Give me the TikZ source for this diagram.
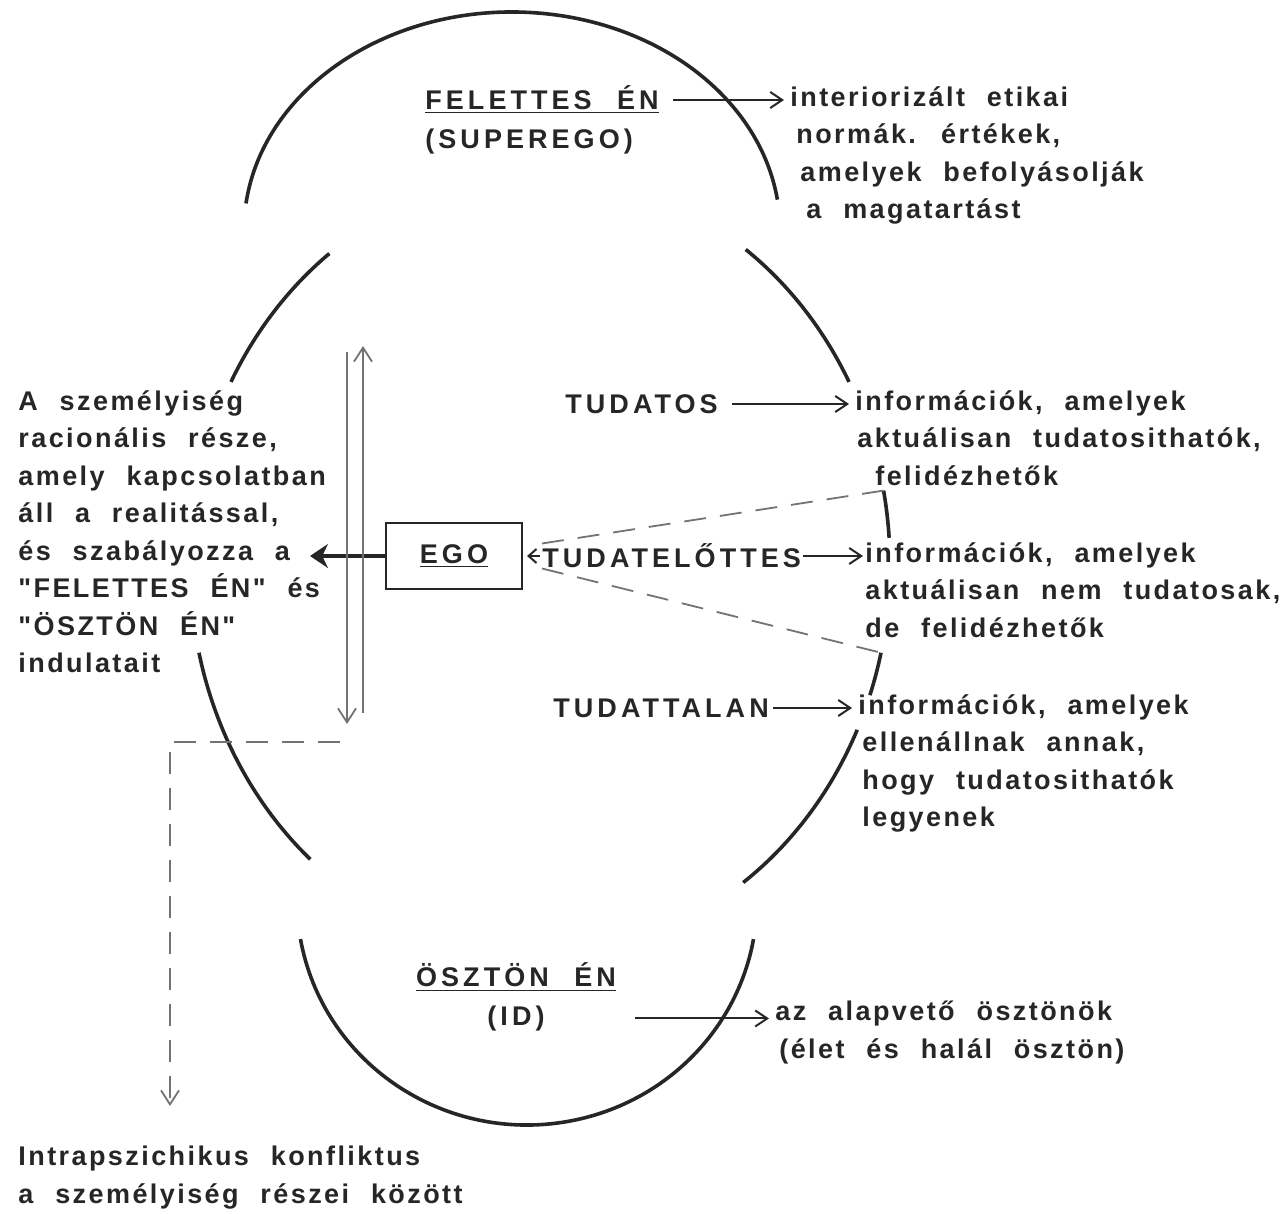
\documentclass[tikz,border=0pt]{standalone}
\usepackage{fontspec}
\newfontfamily\txtfont{Liberation Sans}[LetterSpace=9,WordSpace=2.2]
\newfontfamily\capfont{Liberation Sans}[LetterSpace=15,WordSpace=2.2]
\usetikzlibrary{arrows.meta}
\usetikzlibrary{positioning}

\begin{document}
\begin{tikzpicture}[x=0.5pt,y=0.5pt,yscale=-1,xscale=1,
  outline/.style={line width=1.8pt, black!85},
  arrow line/.style={line width=1pt, black!85, -{Straight Barb[length=6pt,width=8pt]}},
  gray line/.style={line width=0.9pt, black!55},
  dash line/.style={gray line, dash pattern=on 11pt off 7pt},
  txt/.style={inner sep=0pt, align=left, text=black!85, font=\txtfont\bfseries\fontsize{13.5}{18.75}\selectfont},
  caps/.style={inner sep=0pt, align=left, text=black!85, font=\capfont\bfseries\fontsize{13.5}{18.75}\selectfont}]
\useasboundingbox (0,0) rectangle (1286,1214);

%Shape: Arc (felettes en)
\draw[outline] (512,230) ++(-173:268 and 218) arc[start angle=-173, end angle=-8, x radius=268, y radius=218];
%Shape: Arc (ego, broken outline)
\coordinate (mid) at (540,565);
\draw[outline] (mid) ++(-127:350 and 390) arc[start angle=-127, end angle=-152, x radius=350, y radius=390];
\draw[outline] (mid) ++(167:350 and 390) arc[start angle=167, end angle=131, x radius=350, y radius=390];
\draw[outline] (mid) ++(-54:350 and 390) arc[start angle=-54, end angle=-28, x radius=350, y radius=390];
\draw[outline] (mid) ++(-11:350 and 390) coordinate (rtop) arc[start angle=-11, end angle=-4, x radius=350, y radius=390];
\draw[outline] (mid) ++(13:350 and 390) coordinate (rbot) arc[start angle=13, end angle=19.5, x radius=350, y radius=390];
\draw[outline] (mid) ++(25:350 and 390) arc[start angle=25, end angle=54.5, x radius=350, y radius=390];
%Shape: Arc (osztonen)
\draw[outline] (527,900) ++(170:230 and 225) arc[start angle=170, end angle=10, x radius=230, y radius=225];

% Text Node
\node[caps, anchor=west] (felettes) at (425,100) {\underline{FELETTES ÉN}};
\node[caps, below right=7pt and 0pt of felettes.south west] (superego) {(SUPEREGO)};
\node[txt, anchor=north west] (supertxt) at (790,86) {interiorizált etikai\\\hspace*{3pt}normák. értékek,\\\hspace*{5pt}amelyek befolyásolják\\\hspace*{8pt}a magatartást};

% Text Node
\node[txt, anchor=north west] (ratio) at (18,390) {A személyiség\\racionális része,\\amely kapcsolatban\\áll a realitással,\\és szabályozza a\\"FELETTES ÉN" és\\"ÖSZTÖN ÉN"\\indulatait};
\node[draw, line width=1pt, black!85, minimum width=68pt, minimum height=33pt, caps] (ego) at (454,556) {\underline{EGO}};

% Text Node
\node[caps, anchor=west] (tudatos) at (565,404) {TUDATOS};
\node[caps, anchor=west] (elottes) at (542,556) {TUDATELŐTTES};
\node[caps, anchor=west] (tudattalan) at (553,708) {TUDATTALAN};
\node[txt, anchor=north west] (info1) at (855,390) {információk, amelyek\\\hspace*{1pt}aktuálisan tudatosithatók,\\\hspace*{10pt}felidézhetők};
\node[txt, anchor=north west] (info2) at (865,542) {információk, amelyek\\aktuálisan nem tudatosak,\\de felidézhetők};
\node[txt, anchor=north west] (info3) at (858,694) {információk, amelyek\\\hspace*{2pt}ellenállnak annak,\\\hspace*{2pt}hogy tudatosithatók\\\hspace*{2pt}legyenek};

% Text Node
\node[caps] (id) at (516,977) {\underline{ÖSZTÖN ÉN}};
\node[caps, below=7pt of id] (idsub) {(ID)};
\node[txt, anchor=north west] (idtxt) at (775,1001) {az alapvető ösztönök\\\hspace*{2pt}(élet és halál ösztön)};
\node[txt, anchor=north west] (conflict) at (18,1146) {Intrapszichikus konfliktus\\a személyiség részei között};

%Straight Lines
\draw[arrow line, shorten <=7pt, shorten >=3pt] (felettes.east) -- (felettes.east -| supertxt.west);
\draw[arrow line, shorten <=7pt, shorten >=3pt] (tudatos.east) -- (tudatos.east -| info1.west);
\draw[arrow line, shorten <=1pt, shorten >=1pt] (elottes.east) -- (elottes.east -| info2.west);
\draw[arrow line, -{Straight Barb[length=4pt,width=7pt]}, shorten <=1pt, shorten >=2pt] (elottes.west) -- (ego.east);
\draw[arrow line, shorten <=2pt, shorten >=3pt] (tudattalan.east) -- (tudattalan.east -| info3.west);
\draw[arrow line, shorten <=45pt, shorten >=3pt] (idsub.east) -- (idsub.east -| idtxt.west);

%Straight Lines (ego to the left text)
\coordinate (egotip) at (310,556);
\draw[line width=2.4pt, black!85, -{Stealth[length=9pt,width=12pt]}] (ego.west) -- (egotip);

%Straight Lines (double arrow)
\coordinate (uptop) at (363,346);
\coordinate (upbot) at (363,713);
\coordinate (downtop) at (347,352);
\coordinate (downbot) at (347,724);
\draw[gray line, -{Straight Barb[length=7pt,width=9pt]}] (upbot) -- (uptop);
\draw[gray line, -{Straight Barb[length=7pt,width=9pt]}] (downtop) -- (downbot);

%Dashed Lines
\draw[dash line] (elottes.north west) -- (rtop);
\draw[dash line] (elottes.south west) -- (rbot);
\coordinate (lstart) at (340,742);
\coordinate (lcorner) at (170,742);
\draw[dash line, -{Straight Barb[length=7pt,width=9pt]}, shorten >=20pt] (lstart) -- (lcorner) -- (lcorner |- conflict.north);
\end{tikzpicture}
\end{document}
